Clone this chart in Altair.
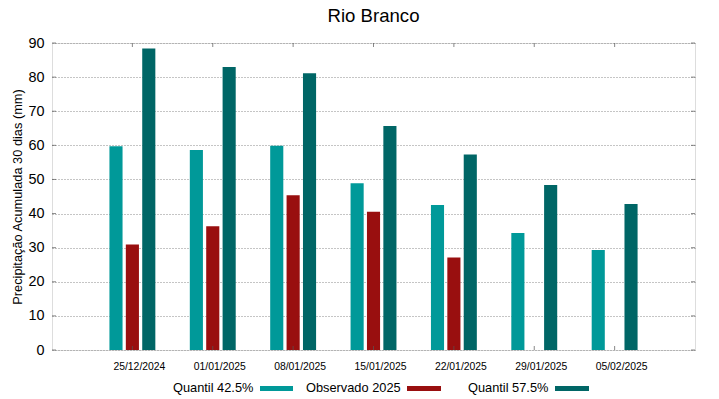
import altair as alt
import pandas as pd

dates = ["25/12/2024", "01/01/2025", "08/01/2025", "15/01/2025",
         "22/01/2025", "29/01/2025", "05/02/2025"]
q425 = [59.7, 58.6, 59.9, 48.9, 42.5, 34.3, 29.3]
obs = [30.9, 36.3, 45.4, 40.5, 27.1, None, None]
q575 = [88.4, 83.0, 81.1, 65.7, 57.3, 48.4, 42.8]
series = ["Quantil 42.5%", "Observado 2025", "Quantil 57.5%"]
colors = ["#009999", "#990f0f", "#006666"]
yticks = [0, 10, 20, 30, 40, 50, 60, 70, 80, 90]

rows = []
for i, d in enumerate(dates):
    for s, vals in zip(series, [q425, obs, q575]):
        if vals[i] is not None:
            rows.append({"date": d, "serie": s, "valor": vals[i]})
df = pd.DataFrame(rows)

W, H = 643, 307
FONT = "Liberation Sans"

xscale = alt.Scale(domain=dates, paddingInner=0, paddingOuter=0.5)
yscale = alt.Scale(domain=[0, 90], nice=False)

xaxis = alt.Axis(title=None, labelAngle=0, tickSize=0, domain=False, grid=False,
                 labelFontSize=10.4, labelPadding=11, labelOffset=7,
                 labelColor="#000", labelFont=FONT)
yaxis = alt.Axis(title="Precipitação Acumulada 30 dias (mm)", values=yticks,
                 labelOverlap=False,
                 tickSize=0, domain=False, labelPadding=8, labelFontSize=14.4,
                 labelColor="#000", labelFont=FONT,
                 grid=True, gridDash=[1, 2], gridColor="#8a8a8a", gridWidth=1,
                 titleFont=FONT, titleFontSize=12.8, titleFontWeight="normal",
                 titleColor="#000", titleAngle=270, titleX=-35, titleY=H / 2,
                 titleAlign="center", titleBaseline="middle")

bars = alt.Chart(df).mark_bar().encode(
    x=alt.X("date:N", scale=xscale, sort=dates, axis=xaxis),
    xOffset=alt.XOffset("serie:N", sort=series,
                        scale=alt.Scale(domain=series, range=[17.25, 63.15],
                                        paddingInner=0.2, paddingOuter=0)),
    y=alt.Y("valor:Q", scale=yscale, axis=yaxis),
    color=alt.Color("serie:N", scale=alt.Scale(domain=series, range=colors), legend=None),
)

tickdf = pd.DataFrame({"valor": yticks})
datedf = pd.DataFrame({"date": dates})
tick_color = "#555555"
right_ticks = alt.Chart(tickdf).mark_tick(orient="horizontal", color=tick_color, thickness=1).encode(
    y=alt.Y("valor:Q", scale=yscale, axis=yaxis), x=alt.value(W - 2), size=alt.value(4))
left_ticks = alt.Chart(tickdf).mark_tick(orient="horizontal", color=tick_color, thickness=1).encode(
    y=alt.Y("valor:Q", scale=yscale, axis=yaxis), x=alt.value(2), size=alt.value(4))
top_ticks = alt.Chart(datedf).mark_tick(orient="vertical", color=tick_color, thickness=1).encode(
    x=alt.X("date:N", scale=xscale, sort=dates, axis=xaxis), y=alt.value(2), size=alt.value(4))
bottom_ticks = alt.Chart(datedf).mark_tick(orient="vertical", color=tick_color, thickness=1).encode(
    x=alt.X("date:N", scale=xscale, sort=dates, axis=xaxis), y=alt.value(H - 2), size=alt.value(4))

# manual legend (label then swatch)
leg_y = 345
leg_text_x = [121, 254, 416]
leg_sw_x = [(208, 241), (355, 389), (503, 537)]
legend_layers = []
for s, c, tx, (sx1, sx2) in zip(series, colors, leg_text_x, leg_sw_x):
    ldf = pd.DataFrame({"label": [s]})
    legend_layers.append(
        alt.Chart(ldf).mark_text(align="left", baseline="middle", font=FONT,
                                 fontSize=12.8, color="#000").encode(
            text="label:N", x=alt.value(tx), y=alt.value(leg_y)))
    legend_layers.append(
        alt.Chart(ldf).mark_rect(color=c).encode(
            x=alt.value(sx1), x2=alt.value(sx2),
            y=alt.value(leg_y - 2), y2=alt.value(leg_y + 3)))

chart = alt.layer(bars, right_ticks, left_ticks, top_ticks, bottom_ticks, *legend_layers).properties(
    width=W, height=H,
    title=alt.TitleParams("Rio Branco", font=FONT, fontSize=18.6, fontWeight="normal",
                          color="#000", anchor="middle", offset=9),
    autosize=alt.AutoSizeParams(type="none"),
    padding={"left": 44, "top": 35, "right": 16, "bottom": 46},
).configure_view(stroke="#444444", strokeWidth=1).configure(background="white")

chart.save("out.html", embed_options={"renderer": "svg", "actions": False})
